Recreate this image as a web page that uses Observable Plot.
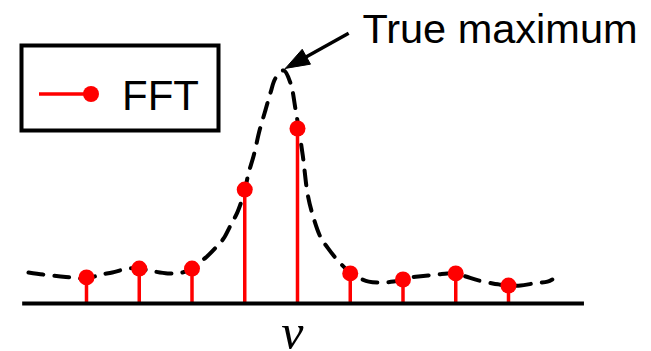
<!DOCTYPE html>
<html><head><meta charset="utf-8">
<script src="https://cdn.jsdelivr.net/npm/d3@7"></script>
<script src="https://cdn.jsdelivr.net/npm/@observablehq/plot@0.6"></script>
<style>
body{margin:0;background:#fff;}
#wrap{position:relative;width:651px;height:351px;}
#legend{position:absolute;left:0;top:0;pointer-events:none;}
</style></head><body><div id="wrap"></div>
<script>
// FFT bins and their magnitudes (peak of true spectrum = 1)
const bins = [0, 1, 2, 3, 4, 5, 6, 7, 8];
const fftValues = [0.112, 0.150, 0.150, 0.489, 0.751, 0.129, 0.103, 0.129, 0.077];

// True (continuous) spectrum, dashed
const curveX = [-1.10, -0.82, -0.49, -0.30, 0.00, 0.27, 0.49, 0.78, 0.99, 1.18, 1.54, 1.82, 1.99, 2.10, 2.26, 2.45, 2.60, 2.73, 2.86, 3.00, 3.07, 3.17, 3.28, 3.39, 3.49, 3.58, 3.74, 3.87, 3.96, 4.10, 4.19, 4.28, 4.44, 4.57, 4.76, 4.91, 4.99, 5.14, 5.35, 5.61, 5.82, 5.99, 6.14, 6.29, 6.65, 6.84, 7.00, 7.19, 7.43, 7.70, 7.81, 7.98, 8.23, 8.47, 8.74, 8.83];
const curveY = [0.133, 0.124, 0.116, 0.112, 0.107, 0.124, 0.133, 0.150, 0.150, 0.142, 0.129, 0.133, 0.150, 0.172, 0.197, 0.240, 0.279, 0.335, 0.391, 0.485, 0.558, 0.635, 0.742, 0.828, 0.906, 0.966, 1.000, 0.944, 0.837, 0.635, 0.472, 0.386, 0.283, 0.240, 0.185, 0.150, 0.129, 0.112, 0.094, 0.090, 0.094, 0.103, 0.112, 0.116, 0.124, 0.129, 0.129, 0.116, 0.099, 0.086, 0.082, 0.077, 0.077, 0.086, 0.094, 0.103];

// Axis line extent (in bin units)
const axisExtent = [-1.21, 9.44];

// Labels
const seriesLabel = "FFT";
const annotationText = "True maximum";
const axisLabel = "ν";

// Annotation anchor points (data units)
const annotationPos = [5.23, 1.116];
const arrowStart = [4.97, 1.160];
const arrowTip = [3.77, 1.009];
const axisLabelPos = [3.9, -0.197];

const W = 651, H = 351;
const xDomain = [-1.6303, 10.7109];
const yDomain = [-0.2060, 1.3004];

const fft = bins.map((b, i) => ({x: b, y: fftValues[i]}));
const curve = curveX.map((x, i) => ({x, y: curveY[i]}));

// scale helpers (same as Plot's linear scales with zero margins)
const sx = d3.scaleLinear(xDomain, [0, W]);
const sy = d3.scaleLinear(yDomain, [H, 0]);

// arrowhead triangle computed in screen space from the arrow direction
const tipPx = [sx(arrowTip[0]), sy(arrowTip[1])];
const startPx = [sx(arrowStart[0]), sy(arrowStart[1])];
const dx = startPx[0] - tipPx[0], dy = startPx[1] - tipPx[1];
const len = Math.hypot(dx, dy);
const ux = dx / len, uy = dy / len;
const headLen = 24, headHalf = 8.5;
const basePx = [tipPx[0] + ux * headLen, tipPx[1] + uy * headLen];
const head = [
  tipPx,
  [basePx[0] - uy * headHalf, basePx[1] + ux * headHalf],
  [basePx[0] + uy * headHalf, basePx[1] - ux * headHalf],
  tipPx
].map(([px, py]) => ({x: sx.invert(px), y: sy.invert(py)}));
const shaftEnd = {x: sx.invert(tipPx[0] + ux * (headLen - 4)), y: sy.invert(tipPx[1] + uy * (headLen - 4))};

const chart = Plot.plot({
  width: W,
  height: H,
  margin: 0,
  x: {domain: xDomain, axis: null},
  y: {domain: yDomain, axis: null},
  style: {background: "white", overflow: "visible"},
  marks: [
    Plot.line(curve, {x: "x", y: "y", curve: "catmull-rom", stroke: "black", strokeWidth: 4, strokeDasharray: "15,11"}),
    Plot.ruleX(fft, {x: "x", y1: 0, y2: "y", stroke: "#ff0000", strokeWidth: 3.5}),
    Plot.dot(fft, {x: "x", y: "y", r: 8, fill: "#ff0000", stroke: "none"}),
    Plot.ruleY([0], {x1: axisExtent[0], x2: axisExtent[1], stroke: "black", strokeWidth: 4}),
    Plot.link([0], {x1: () => arrowStart[0], y1: () => arrowStart[1], x2: () => shaftEnd.x, y2: () => shaftEnd.y, stroke: "black", strokeWidth: 3.5}),
    Plot.line(head, {x: "x", y: "y", fill: "black", stroke: "black", strokeWidth: 1, curve: "linear"}),
    Plot.text([annotationText], {x: () => annotationPos[0], y: () => annotationPos[1], text: d => d, textAnchor: "start", lineAnchor: "bottom", fontSize: 41.5, fontFamily: "Liberation Sans, Arial, sans-serif", fill: "black"}),
    Plot.text([axisLabel], {x: () => axisLabelPos[0], y: () => axisLabelPos[1], text: d => d, textAnchor: "middle", lineAnchor: "bottom", fontSize: 50, fontStyle: "italic", fontFamily: "Liberation Serif, Times New Roman, serif", fill: "black"})
  ]
});

const wrap = document.getElementById("wrap");
wrap.appendChild(chart);

// Legend (inside the plot area, top-left)
const ns = "http://www.w3.org/2000/svg";
const leg = document.createElementNS(ns, "svg");
leg.setAttribute("id", "legend");
leg.setAttribute("width", 240);
leg.setAttribute("height", 150);
leg.innerHTML = `
  <rect x="21.5" y="45.5" width="197" height="85" fill="white" stroke="black" stroke-width="4"/>
  <line x1="39" y1="94" x2="91" y2="94" stroke="#ff0000" stroke-width="3.5"/>
  <circle cx="91" cy="94" r="8" fill="#ff0000"/>
  <text x="122" y="110" font-size="42" font-family="Liberation Sans, Arial, sans-serif" fill="black">${seriesLabel}</text>`;
wrap.appendChild(leg);
</script></body></html>
